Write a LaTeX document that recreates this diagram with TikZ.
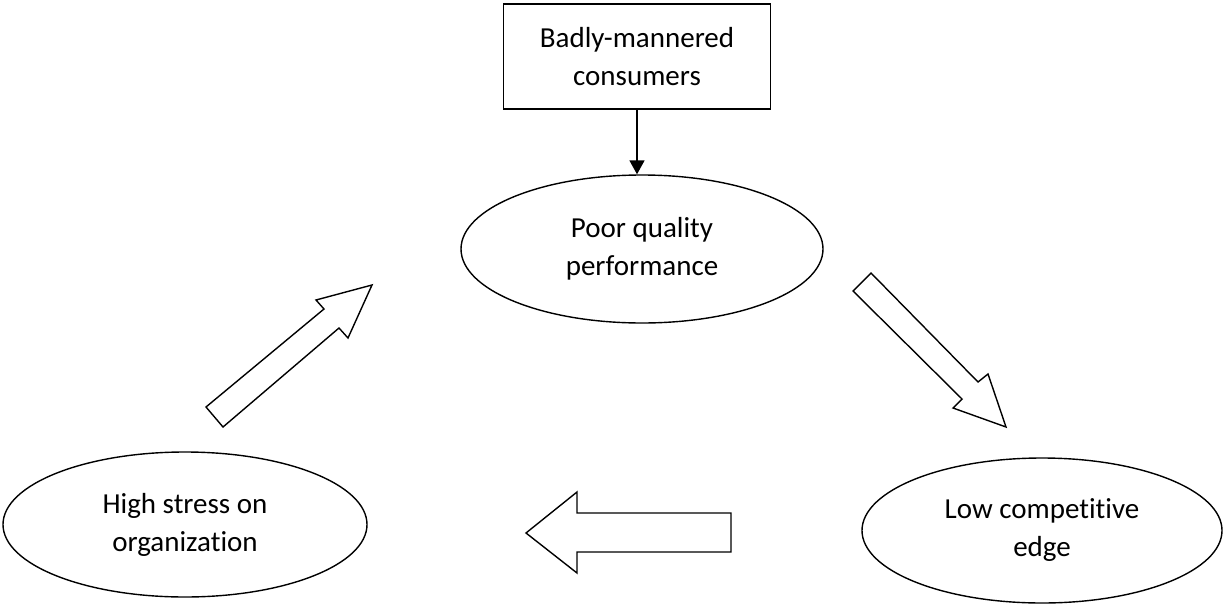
\documentclass[tikz,border=0pt]{standalone}
\usepackage{fontspec}
\setmainfont{Carlito}[RawFeature={-liga;-clig;-calt}]
\usetikzlibrary{shapes.geometric,arrows.meta}
\tikzset{
  oval/.style={draw, ellipse, line width=1.4pt, inner sep=0pt, align=center,
    font=\fontsize{29}{38}\selectfont},
  causebox/.style={draw, rectangle, line width=1.4pt, inner sep=0pt, align=center,
    minimum width=267pt, minimum height=105pt, font=\fontsize{29}{38}\selectfont},
  blockarrow/.style={draw, line width=1.4pt, line join=miter, fill=white},
  link/.style={line width=1.7pt, -{Triangle[length=14pt,width=15pt]}}
}
\begin{document}
\begin{tikzpicture}[x=1pt,y=-1pt]
\useasboundingbox (0,0) rectangle (1223,605);

% source of the problem
\node[causebox] (bmc) at (637,56.5) {Badly-mannered\\consumers};

% the cycle
\node[oval, minimum width=362pt, minimum height=148pt] (pqp) at (642,249) {Poor quality\\performance};
\node[oval, minimum width=360pt, minimum height=145pt] (lce) at (1042,530.5) {Low competitive\\edge};
\node[oval, minimum width=364pt, minimum height=145pt] (hso) at (185,524.5) {High stress on\\organization};

\draw[link] (bmc.south) -- (bmc.south |- pqp.north);

% block arrows between the stages of the cycle
% poor quality -> low competitive edge
\draw[blockarrow] (853,291) -- (871,273) -- (978,382) -- (988,374) -- (1006,427)
  -- (953,408) -- (962,399) -- cycle;
% low competitive edge -> high stress
\draw[blockarrow] (526,533) -- (577,492) -- (577,513) -- (731,513) -- (731,552)
  -- (577,552) -- (577,573) -- cycle;
% high stress -> poor quality
\draw[blockarrow] (206,407) -- (223,427) -- (339,328) -- (348,338) -- (372,285)
  -- (316,300) -- (324,309) -- cycle;
\end{tikzpicture}
\end{document}
